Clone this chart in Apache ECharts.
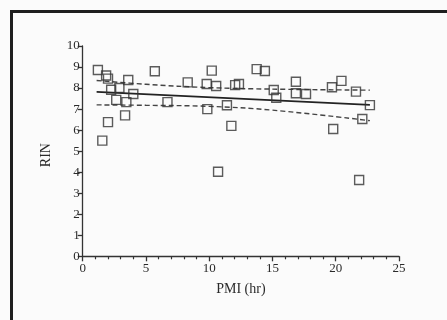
<!DOCTYPE html>
<html>
<head>
<meta charset="utf-8">
<script src="https://cdn.jsdelivr.net/npm/echarts@6/dist/echarts.min.js"></script>
<style>
html,body{margin:0;padding:0;background:#fbfbfb;}
#c{width:447px;height:320px;}
</style>
</head>
<body>
<div id="c"></div>
<script>
var pmi = [1.2, 1.85, 2.0, 2.25, 2.0, 1.55, 2.65, 2.9, 3.6, 3.45, 4.0, 3.35, 5.7, 6.7, 8.3, 9.8, 10.2, 9.85, 10.55, 11.4, 11.75, 12.05, 12.35, 13.75, 14.4, 15.1, 15.3, 16.85, 16.85, 17.65, 19.7, 20.45, 19.8, 21.6, 22.1, 22.7, 10.7, 21.85];
var rin = [8.86, 8.6, 8.45, 7.92, 6.38, 5.5, 7.44, 8.0, 8.38, 7.33, 7.72, 6.7, 8.8, 7.33, 8.27, 8.19, 8.83, 7.0, 8.1, 7.18, 6.2, 8.14, 8.19, 8.9, 8.81, 7.91, 7.54, 8.3, 7.75, 7.72, 8.04, 8.34, 6.05, 7.83, 6.53, 7.19, 4.02, 3.63];
var fitX = [1.1, 22.7];
var fitY = [7.82, 7.2];
var upperX = [1.1, 5, 10, 15, 22.7];
var upperY = [8.36, 8.18, 8.02, 7.95, 7.9];
var lowerX = [1.1, 5, 10, 15, 22.7];
var lowerY = [7.2, 7.18, 7.13, 6.95, 6.45];
var xTicks = [0, 5, 10, 15, 20, 25];
var yTicks = [0,1,2,3,4,5,6,7,8,9,10];

function zip(a, b){ return a.map(function(v,i){ return [v, b[i]]; }); }

var chart = echarts.init(document.getElementById('c'));
var font = 'Liberation Serif';
chart.setOption({
  backgroundColor: '#fbfbfb',
  animation: false,
  grid: {left: 82.7, right: 48, top: 46, bottom: 63.7},
  graphic: [{
    type: 'rect', shape: {x: 11.5, y: 11.5, width: 460, height: 340},
    style: {fill: 'none', stroke: '#1e1e1e', lineWidth: 3}, silent: true
  }],
  xAxis: {
    type: 'value', min: xTicks[0], max: xTicks[xTicks.length-1], interval: 5,
    name: 'PMI (hr)', nameLocation: 'middle', nameGap: 26,
    nameTextStyle: {fontFamily: font, fontSize: 14, color: '#2a2a2a'},
    axisLine: {onZero: false, lineStyle: {color: '#333', width: 1.3}},
    axisTick: {length: 5, lineStyle: {color: '#333', width: 1.3}},
    minorTick: {show: true, splitNumber: 5, length: 3, lineStyle: {color: '#333', width: 1.2}},
    axisLabel: {fontFamily: font, fontSize: 13, color: '#2a2a2a', margin: 6},
    splitLine: {show: false}
  },
  yAxis: {
    type: 'value', min: yTicks[0], max: yTicks[yTicks.length-1], interval: 1,
    name: 'RIN', nameLocation: 'middle', nameGap: 29, nameRotate: 90,
    nameTextStyle: {fontFamily: font, fontSize: 14, color: '#2a2a2a', padding: [0,8,0,0]},
    axisLine: {show: true, onZero: false, lineStyle: {color: '#333', width: 1.3}},
    axisTick: {show: true, length: 5, lineStyle: {color: '#333', width: 1.3}},
    axisLabel: {fontFamily: font, fontSize: 13, color: '#2a2a2a', margin: 3},
    splitLine: {show: false}
  },
  series: [
    {type: 'line', data: zip(upperX, upperY), smooth: 0.4, symbol: 'none',
     lineStyle: {color: '#444', width: 1.4, type: [5, 3]}, z: 2},
    {type: 'line', data: zip(lowerX, lowerY), smooth: 0.4, symbol: 'none',
     lineStyle: {color: '#444', width: 1.4, type: [5, 3]}, z: 2},
    {type: 'line', data: zip(fitX, fitY), symbol: 'none',
     lineStyle: {color: '#222', width: 1.6}, z: 3},
    {type: 'scatter', data: zip(pmi, rin), symbol: 'rect', symbolSize: 9,
     itemStyle: {color: 'rgba(0,0,0,0)', borderColor: '#333', borderWidth: 1.4}, z: 4}
  ]
});
</script>
</body>
</html>
